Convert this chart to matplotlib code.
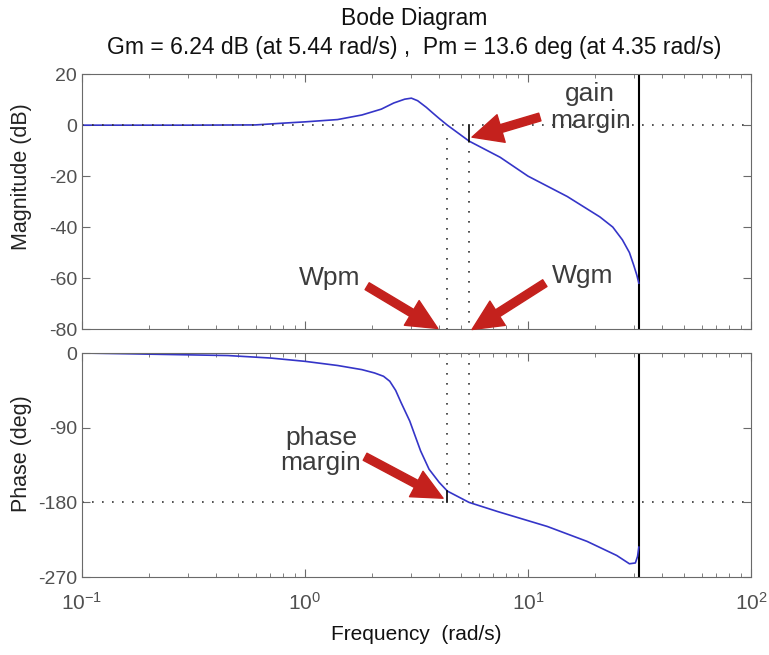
import numpy as np
import matplotlib
matplotlib.use("Agg")
import matplotlib.pyplot as plt
from matplotlib.ticker import LogLocator, NullFormatter

plt.rcParams['font.family'] = ['Liberation Sans', 'DejaVu Sans']
plt.rcParams['axes.unicode_minus'] = False

gm_db, wgm = 6.24, 5.44
pm_deg, wpm = 13.6, 4.35
w_nyq = 31.4  # pi / Ts

# courbe de gain
f_mag = [0.1, 0.3, 0.6, 0.8, 1.0, 1.4, 1.8, 2.2, 2.5, 2.8, 3.0, 3.2, 3.5,
         3.75, 4.0, 4.35, 5.44, 7.5, 10, 15, 21, 24, 26.5, 28.5, 29.8,
         30.8, 31.4]
mag_db = [0, 0, 0.1, 0.8, 1.3, 2.2, 4.0, 6.3, 8.7, 10.2, 10.6, 9.6, 7.0,
          4.7, 2.6, 0, -6.24, -12.6, -20, -28, -36, -40, -45, -50, -55,
          -59, -62]

# courbe de phase
f_ph = [0.1, 0.17, 0.45, 0.7, 1.0, 1.4, 1.8, 2.05, 2.25, 2.4, 2.55, 2.7,
        2.95, 3.1, 3.3, 3.6, 4.0, 4.35, 5.44, 7.3, 12.2, 18.4, 25, 28.5,
        30.3, 31.0, 31.4]
phase_deg = [0, -1, -3, -6, -10, -15, -20, -24, -28, -34, -45, -60, -82,
             -98, -118, -140, -156, -166.4, -180, -191, -209, -227, -244,
             -254, -253, -245, -234]

mag_ticks = [20, 0, -20, -40, -60, -80]
phase_ticks = [0, -90, -180, -270]

blue = '#3535c8'
red = '#c4211d'
grey = '#6a6a6a'
txt = '#3c3c3c'
dots = (0, (1, 5))

fig = plt.figure(figsize=(7.69, 6.55), dpi=100)
ax1 = fig.add_axes([0.1066, 0.4977, 0.870, 0.389])
ax2 = fig.add_axes([0.1066, 0.119, 0.870, 0.342])

for ax in (ax1, ax2):
    ax.set_xscale('log')
    ax.set_xlim(0.1, 100)
    ax.xaxis.set_major_locator(LogLocator(base=10))
    ax.xaxis.set_minor_locator(LogLocator(base=10, subs=np.arange(2, 10)))
    ax.xaxis.set_minor_formatter(NullFormatter())
    ax.tick_params(which='both', direction='in', top=True, right=True,
                   colors=grey, labelcolor='#505050', labelsize=14)
    ax.tick_params(which='major', length=6)
    ax.tick_params(which='minor', length=3)
    for s in ax.spines.values():
        s.set_color(grey)
    ax.axvline(w_nyq, color='black', lw=1.5)

# gain
ax1.plot(f_mag, mag_db, color=blue, lw=1.2)
ax1.axhline(0, color='#333333', lw=1.2, ls=dots)
ax1.plot([wpm, wpm], [-5, -80], color='#333333', lw=1.2, ls=dots)
ax1.plot([wgm, wgm], [-gm_db, -80], color='#333333', lw=1.2, ls=dots)
ax1.plot([wgm, wgm], [0, -gm_db], color='black', lw=1.2)
ax1.set_ylim(-80, 20)
ax1.set_yticks(mag_ticks)
ax1.tick_params(axis='x', labelbottom=False)
ax1.set_ylabel('Magnitude (dB)', fontsize=15.5, color='#222222')
ax1.yaxis.set_label_coords(-0.074, 0.6)

# phase
ax2.plot(f_ph, phase_deg, color=blue, lw=1.2)
ax2.axhline(-180, color='#333333', lw=1.2, ls=dots)
ax2.plot([wpm, wpm], [0, -180 + pm_deg], color='#333333', lw=1.2, ls=dots)
ax2.plot([wgm, wgm], [0, -175], color='#333333', lw=1.2, ls=dots)
ax2.plot([wpm, wpm], [-180 + pm_deg, -180], color='black', lw=1.2)
ax2.set_ylim(-270, 0)
ax2.set_yticks(phase_ticks)
ax2.tick_params(axis='x', pad=11, labelsize=15)
ax2.set_ylabel('Phase (deg)', fontsize=15.5, color='#222222')
ax2.yaxis.set_label_coords(-0.074, 0.55)
ax2.set_xlabel('Frequency  (rad/s)', fontsize=15, color='#111111', labelpad=8)

fig.text(0.538, 0.9725, 'Bode Diagram', ha='center', va='center',
         fontsize=16.5, color='#111111')
fig.text(0.538, 0.927,
         'Gm = 6.24 dB (at 5.44 rad/s) ,  Pm = 13.6 deg (at 4.35 rad/s)',
         ha='center', va='center', fontsize=16.5, color='#111111')

# annotations
arrow = dict(arrowstyle='simple,head_length=0.95,head_width=0.9,tail_width=0.25',
             color=red, shrinkA=0, shrinkB=0, mutation_scale=23)
ax1.text(19, 6.9, 'gain\nmargin', ha='center', va='center', fontsize=19,
         color=txt, linespacing=1.15)
ax1.annotate('', xy=(5.61, -4.7), xytext=(11.3, 3.2), arrowprops=arrow,
             annotation_clip=False)
ax1.text(1.29, -60, 'Wpm', ha='center', va='center', fontsize=19, color=txt)
ax1.annotate('', xy=(3.94, -79.8), xytext=(1.90, -63.2), arrowprops=arrow,
             annotation_clip=False)
ax1.text(17.5, -59.3, 'Wgm', ha='center', va='center', fontsize=19, color=txt)
ax1.annotate('', xy=(5.61, -80.2), xytext=(11.9, -62), arrowprops=arrow,
             annotation_clip=False)
ax2.text(1.18, -118, 'phase\nmargin', ha='center', va='center', fontsize=19,
         color=txt, linespacing=1.05)
ax2.annotate('', xy=(4.16, -175), xytext=(1.86, -125), arrowprops=arrow,
             annotation_clip=False)

fig.savefig('out.png', dpi=100)
